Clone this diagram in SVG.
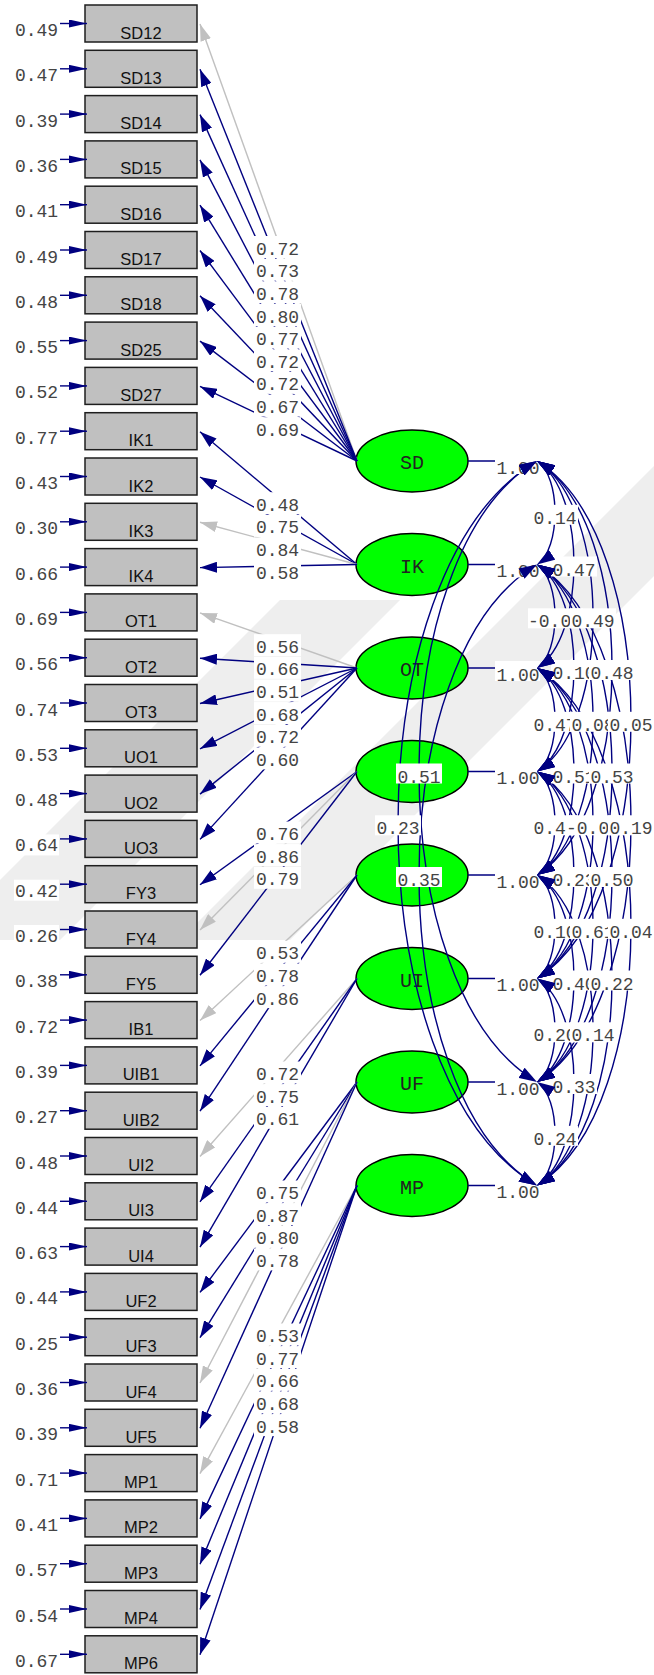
<svg xmlns="http://www.w3.org/2000/svg" width="654" height="1675" viewBox="0 0 654 1675">
<style>
.box{fill:#c0c0c0;stroke:#1e1e1e;stroke-width:1.5}
.bt{font-family:"Liberation Sans",Arial,sans-serif;font-size:16.5px;fill:#111;text-anchor:middle}
.lv{fill:#00ff00;stroke:#000;stroke-width:1.5}
.lt{font-family:"Liberation Mono","DejaVu Sans Mono",monospace;font-size:20px;fill:#222;text-anchor:middle}
.lb{font-family:"Liberation Mono","DejaVu Sans Mono",monospace;font-size:18px;fill:#444;text-anchor:middle}
.bg{fill:#fff}
.wm{fill:#eeeeee}
.n{stroke:#000080;stroke-width:1.4;fill:none}
.g{stroke:#c0c0c0;stroke-width:1.4;fill:none}
.na{marker-end:url(#a)}
.ga{marker-end:url(#ag)}
.ea{marker-end:url(#e)}
.hd{stroke:none;fill:none;marker-start:url(#h);marker-end:url(#h)}
</style>
<defs>
<marker id="a" viewBox="0 0 17 11" refX="17" refY="5.5" markerWidth="17" markerHeight="11" markerUnits="userSpaceOnUse" orient="auto-start-reverse"><path d="M0,0L17,5.5L0,11z" fill="#000080"/></marker>
<marker id="ag" viewBox="0 0 17 11" refX="17" refY="5.5" markerWidth="17" markerHeight="11" markerUnits="userSpaceOnUse" orient="auto-start-reverse"><path d="M0,0L17,5.5L0,11z" fill="#c0c0c0"/></marker>
<marker id="e" viewBox="0 0 18 8" refX="18" refY="4" markerWidth="18" markerHeight="8" markerUnits="userSpaceOnUse" orient="auto"><path d="M0,0L18,4L0,8z" fill="#000080"/></marker>
<marker id="h" viewBox="0 0 18 12" refX="18" refY="6" markerWidth="18" markerHeight="12" markerUnits="userSpaceOnUse" orient="auto-start-reverse"><path d="M0,0L18,6L0,12z" fill="#000080"/></marker>
</defs>
<rect width="654" height="1675" fill="#fff"/>
<g id="watermark">
<polygon class="wm" points="654,466 654,576 290,940 180,940"/>
<polygon class="wm" points="280,600 400,600 60,940 0,940 0,880"/>
</g>

<g id="SD12"><rect class="box" x="85" y="5" width="112" height="37"/><text class="bt" x="141" y="38.5">SD12</text></g>
<g id="SD13"><rect class="box" x="85" y="50.3" width="112" height="37"/><text class="bt" x="141" y="83.8">SD13</text></g>
<g id="SD14"><rect class="box" x="85" y="95.6" width="112" height="37"/><text class="bt" x="141" y="129.1">SD14</text></g>
<g id="SD15"><rect class="box" x="85" y="140.9" width="112" height="37"/><text class="bt" x="141" y="174.4">SD15</text></g>
<g id="SD16"><rect class="box" x="85" y="186.2" width="112" height="37"/><text class="bt" x="141" y="219.7">SD16</text></g>
<g id="SD17"><rect class="box" x="85" y="231.5" width="112" height="37"/><text class="bt" x="141" y="265">SD17</text></g>
<g id="SD18"><rect class="box" x="85" y="276.8" width="112" height="37"/><text class="bt" x="141" y="310.3">SD18</text></g>
<g id="SD25"><rect class="box" x="85" y="322.1" width="112" height="37"/><text class="bt" x="141" y="355.6">SD25</text></g>
<g id="SD27"><rect class="box" x="85" y="367.4" width="112" height="37"/><text class="bt" x="141" y="400.9">SD27</text></g>
<g id="IK1"><rect class="box" x="85" y="412.7" width="112" height="37"/><text class="bt" x="141" y="446.2">IK1</text></g>
<g id="IK2"><rect class="box" x="85" y="458" width="112" height="37"/><text class="bt" x="141" y="491.5">IK2</text></g>
<g id="IK3"><rect class="box" x="85" y="503.3" width="112" height="37"/><text class="bt" x="141" y="536.8">IK3</text></g>
<g id="IK4"><rect class="box" x="85" y="548.6" width="112" height="37"/><text class="bt" x="141" y="582.1">IK4</text></g>
<g id="OT1"><rect class="box" x="85" y="593.9" width="112" height="37"/><text class="bt" x="141" y="627.4">OT1</text></g>
<g id="OT2"><rect class="box" x="85" y="639.2" width="112" height="37"/><text class="bt" x="141" y="672.7">OT2</text></g>
<g id="OT3"><rect class="box" x="85" y="684.5" width="112" height="37"/><text class="bt" x="141" y="718">OT3</text></g>
<g id="UO1"><rect class="box" x="85" y="729.8" width="112" height="37"/><text class="bt" x="141" y="763.3">UO1</text></g>
<g id="UO2"><rect class="box" x="85" y="775.1" width="112" height="37"/><text class="bt" x="141" y="808.6">UO2</text></g>
<g id="UO3"><rect class="box" x="85" y="820.4" width="112" height="37"/><text class="bt" x="141" y="853.9">UO3</text></g>
<g id="FY3"><rect class="box" x="85" y="865.7" width="112" height="37"/><text class="bt" x="141" y="899.2">FY3</text></g>
<g id="FY4"><rect class="box" x="85" y="911" width="112" height="37"/><text class="bt" x="141" y="944.5">FY4</text></g>
<g id="FY5"><rect class="box" x="85" y="956.3" width="112" height="37"/><text class="bt" x="141" y="989.8">FY5</text></g>
<g id="IB1"><rect class="box" x="85" y="1001.6" width="112" height="37"/><text class="bt" x="141" y="1035.1">IB1</text></g>
<g id="UIB1"><rect class="box" x="85" y="1046.9" width="112" height="37"/><text class="bt" x="141" y="1080.4">UIB1</text></g>
<g id="UIB2"><rect class="box" x="85" y="1092.2" width="112" height="37"/><text class="bt" x="141" y="1125.7">UIB2</text></g>
<g id="UI2"><rect class="box" x="85" y="1137.5" width="112" height="37"/><text class="bt" x="141" y="1171">UI2</text></g>
<g id="UI3"><rect class="box" x="85" y="1182.8" width="112" height="37"/><text class="bt" x="141" y="1216.3">UI3</text></g>
<g id="UI4"><rect class="box" x="85" y="1228.1" width="112" height="37"/><text class="bt" x="141" y="1261.6">UI4</text></g>
<g id="UF2"><rect class="box" x="85" y="1273.4" width="112" height="37"/><text class="bt" x="141" y="1306.9">UF2</text></g>
<g id="UF3"><rect class="box" x="85" y="1318.7" width="112" height="37"/><text class="bt" x="141" y="1352.2">UF3</text></g>
<g id="UF4"><rect class="box" x="85" y="1364" width="112" height="37"/><text class="bt" x="141" y="1397.5">UF4</text></g>
<g id="UF5"><rect class="box" x="85" y="1409.3" width="112" height="37"/><text class="bt" x="141" y="1442.8">UF5</text></g>
<g id="MP1"><rect class="box" x="85" y="1454.6" width="112" height="37"/><text class="bt" x="141" y="1488.1">MP1</text></g>
<g id="MP2"><rect class="box" x="85" y="1499.9" width="112" height="37"/><text class="bt" x="141" y="1533.4">MP2</text></g>
<g id="MP3"><rect class="box" x="85" y="1545.2" width="112" height="37"/><text class="bt" x="141" y="1578.7">MP3</text></g>
<g id="MP4"><rect class="box" x="85" y="1590.5" width="112" height="37"/><text class="bt" x="141" y="1624">MP4</text></g>
<g id="MP6"><rect class="box" x="85" y="1635.8" width="112" height="37"/><text class="bt" x="141" y="1669.3">MP6</text></g>

<g id="lv-SD"><ellipse class="lv" cx="412" cy="461" rx="56" ry="31"/><text class="lt" x="412" y="469">SD</text></g>
<g id="lv-IK"><ellipse class="lv" cx="412" cy="564.5" rx="56" ry="31"/><text class="lt" x="412" y="572.5">IK</text></g>
<g id="lv-OT"><ellipse class="lv" cx="412" cy="668" rx="56" ry="31"/><text class="lt" x="412" y="676">OT</text></g>
<g id="lv-4"><ellipse class="lv" cx="412" cy="771.5" rx="56" ry="31"/></g>
<g id="lv-5"><ellipse class="lv" cx="412" cy="875" rx="56" ry="31"/></g>
<g id="lv-UI"><ellipse class="lv" cx="412" cy="978.5" rx="56" ry="31"/><text class="lt" x="412" y="986.5">UI</text></g>
<g id="lv-UF"><ellipse class="lv" cx="412" cy="1082" rx="56" ry="31"/><text class="lt" x="412" y="1090">UF</text></g>
<g id="lv-MP"><ellipse class="lv" cx="412" cy="1185.5" rx="56" ry="31"/><text class="lt" x="412" y="1193.5">MP</text></g>

<g id="connectors">
<g id="errors" class="n">
<line class="ea" x1="60" y1="23.5" x2="87" y2="23.5"/>
<line class="ea" x1="60" y1="68.8" x2="87" y2="68.8"/>
<line class="ea" x1="60" y1="114.1" x2="87" y2="114.1"/>
<line class="ea" x1="60" y1="159.4" x2="87" y2="159.4"/>
<line class="ea" x1="60" y1="204.7" x2="87" y2="204.7"/>
<line class="ea" x1="60" y1="250" x2="87" y2="250"/>
<line class="ea" x1="60" y1="295.3" x2="87" y2="295.3"/>
<line class="ea" x1="60" y1="340.6" x2="87" y2="340.6"/>
<line class="ea" x1="60" y1="385.9" x2="87" y2="385.9"/>
<line class="ea" x1="60" y1="431.2" x2="87" y2="431.2"/>
<line class="ea" x1="60" y1="476.5" x2="87" y2="476.5"/>
<line class="ea" x1="60" y1="521.8" x2="87" y2="521.8"/>
<line class="ea" x1="60" y1="567.1" x2="87" y2="567.1"/>
<line class="ea" x1="60" y1="612.4" x2="87" y2="612.4"/>
<line class="ea" x1="60" y1="657.7" x2="87" y2="657.7"/>
<line class="ea" x1="60" y1="703" x2="87" y2="703"/>
<line class="ea" x1="60" y1="748.3" x2="87" y2="748.3"/>
<line class="ea" x1="60" y1="793.6" x2="87" y2="793.6"/>
<line class="ea" x1="60" y1="838.9" x2="87" y2="838.9"/>
<line class="ea" x1="60" y1="884.2" x2="87" y2="884.2"/>
<line class="ea" x1="60" y1="929.5" x2="87" y2="929.5"/>
<line class="ea" x1="60" y1="974.8" x2="87" y2="974.8"/>
<line class="ea" x1="60" y1="1020.1" x2="87" y2="1020.1"/>
<line class="ea" x1="60" y1="1065.4" x2="87" y2="1065.4"/>
<line class="ea" x1="60" y1="1110.7" x2="87" y2="1110.7"/>
<line class="ea" x1="60" y1="1156" x2="87" y2="1156"/>
<line class="ea" x1="60" y1="1201.3" x2="87" y2="1201.3"/>
<line class="ea" x1="60" y1="1246.6" x2="87" y2="1246.6"/>
<line class="ea" x1="60" y1="1291.9" x2="87" y2="1291.9"/>
<line class="ea" x1="60" y1="1337.2" x2="87" y2="1337.2"/>
<line class="ea" x1="60" y1="1382.5" x2="87" y2="1382.5"/>
<line class="ea" x1="60" y1="1427.8" x2="87" y2="1427.8"/>
<line class="ea" x1="60" y1="1473.1" x2="87" y2="1473.1"/>
<line class="ea" x1="60" y1="1518.4" x2="87" y2="1518.4"/>
<line class="ea" x1="60" y1="1563.7" x2="87" y2="1563.7"/>
<line class="ea" x1="60" y1="1609" x2="87" y2="1609"/>
<line class="ea" x1="60" y1="1654.3" x2="87" y2="1654.3"/>
</g>
<g id="loadings">
<line class="g ga" x1="357" y1="461" x2="200" y2="24"/>
<line class="n na" x1="357" y1="461" x2="200" y2="69.3"/>
<line class="n na" x1="357" y1="461" x2="200" y2="114.6"/>
<line class="n na" x1="357" y1="461" x2="200" y2="159.9"/>
<line class="n na" x1="357" y1="461" x2="200" y2="205.2"/>
<line class="n na" x1="357" y1="461" x2="200" y2="250.5"/>
<line class="n na" x1="357" y1="461" x2="200" y2="295.8"/>
<line class="n na" x1="357" y1="461" x2="200" y2="341.1"/>
<line class="n na" x1="357" y1="461" x2="200" y2="386.4"/>
<line class="n na" x1="357" y1="564.5" x2="200" y2="431.7"/>
<line class="n na" x1="357" y1="564.5" x2="200" y2="477"/>
<line class="g ga" x1="357" y1="564.5" x2="200" y2="522.3"/>
<line class="n na" x1="357" y1="564.5" x2="200" y2="567.6"/>
<line class="g ga" x1="357" y1="668" x2="200" y2="612.9"/>
<line class="n na" x1="357" y1="668" x2="200" y2="658.2"/>
<line class="n na" x1="357" y1="668" x2="200" y2="703.5"/>
<line class="n na" x1="357" y1="668" x2="200" y2="748.8"/>
<line class="n na" x1="357" y1="668" x2="200" y2="794.1"/>
<line class="n na" x1="357" y1="668" x2="200" y2="839.4"/>
<line class="n na" x1="357" y1="771.5" x2="200" y2="884.7"/>
<line class="g ga" x1="357" y1="771.5" x2="200" y2="930"/>
<line class="n na" x1="357" y1="771.5" x2="200" y2="975.3"/>
<line class="g ga" x1="357" y1="875" x2="200" y2="1020.6"/>
<line class="n na" x1="357" y1="875" x2="200" y2="1065.9"/>
<line class="n na" x1="357" y1="875" x2="200" y2="1111.2"/>
<line class="g ga" x1="357" y1="978.5" x2="200" y2="1156.5"/>
<line class="n na" x1="357" y1="978.5" x2="200" y2="1201.8"/>
<line class="n na" x1="357" y1="978.5" x2="200" y2="1247.1"/>
<line class="n na" x1="357" y1="1082" x2="200" y2="1292.4"/>
<line class="n na" x1="357" y1="1082" x2="200" y2="1337.7"/>
<line class="g ga" x1="357" y1="1082" x2="200" y2="1383"/>
<line class="n na" x1="357" y1="1082" x2="200" y2="1428.3"/>
<line class="g ga" x1="357" y1="1185.5" x2="200" y2="1473.6"/>
<line class="n na" x1="357" y1="1185.5" x2="200" y2="1518.9"/>
<line class="n na" x1="357" y1="1185.5" x2="200" y2="1564.2"/>
<line class="n na" x1="357" y1="1185.5" x2="200" y2="1609.5"/>
<line class="n na" x1="357" y1="1185.5" x2="200" y2="1654.8"/>
</g>
<g id="variances" class="n">
<line x1="468" y1="461" x2="537" y2="461"/>
<line x1="468" y1="564.5" x2="537" y2="564.5"/>
<line x1="468" y1="668" x2="537" y2="668"/>
<line x1="468" y1="771.5" x2="537" y2="771.5"/>
<line x1="468" y1="875" x2="537" y2="875"/>
<line x1="468" y1="978.5" x2="537" y2="978.5"/>
<line x1="468" y1="1082" x2="537" y2="1082"/>
<line x1="468" y1="1185.5" x2="537" y2="1185.5"/>
</g>
<g id="correlations" class="n">
<path id="c01" d="M537,461C561,476.5 561,549 537,564.5"/>
<path id="c02" d="M537,461C586.3,492.1 586.3,636.9 537,668"/>
<path id="c03" d="M537,461C611.7,507.6 611.7,724.9 537,771.5"/>
<path id="c04" d="M537,461C637,523.1 637,812.9 537,875"/>
<path id="c05" d="M537,461C662.3,538.6 662.3,900.9 537,978.5"/>
<path id="c06" d="M537,461C379.7,554.2 379.7,988.8 537,1082"/>
<path id="c07" d="M537,461C351.7,569.7 351.7,1076.8 537,1185.5"/>
<path id="c12" d="M537,564.5C561,580 561,652.5 537,668"/>
<path id="c13" d="M537,564.5C586.3,595.6 586.3,740.4 537,771.5"/>
<path id="c14" d="M537,564.5C611.7,611.1 611.7,828.4 537,875"/>
<path id="c15" d="M537,564.5C637,626.6 637,916.4 537,978.5"/>
<path id="c16" d="M537,564.5C662.3,642.1 662.3,1004.4 537,1082"/>
<path id="c17" d="M537,564.5C379.7,657.7 379.7,1092.3 537,1185.5"/>
<path id="c23" d="M537,668C561,683.5 561,756 537,771.5"/>
<path id="c24" d="M537,668C586.3,699.1 586.3,843.9 537,875"/>
<path id="c25" d="M537,668C611.7,714.6 611.7,931.9 537,978.5"/>
<path id="c26" d="M537,668C637,730.1 637,1019.9 537,1082"/>
<path id="c27" d="M537,668C662.3,745.6 662.3,1107.9 537,1185.5"/>
<path id="c34" d="M537,771.5C561,787 561,859.5 537,875"/>
<path id="c35" d="M537,771.5C586.3,802.6 586.3,947.4 537,978.5"/>
<path id="c36" d="M537,771.5C611.7,818.1 611.7,1035.4 537,1082"/>
<path id="c37" d="M537,771.5C637,833.6 637,1123.4 537,1185.5"/>
<path id="c45" d="M537,875C561,890.5 561,963 537,978.5"/>
<path id="c46" d="M537,875C586.3,906.1 586.3,1050.9 537,1082"/>
<path id="c47" d="M537,875C611.7,921.6 611.7,1138.9 537,1185.5"/>
<path id="c56" d="M537,978.5C561,994 561,1066.5 537,1082"/>
<path id="c57" d="M537,978.5C586.3,1009.6 586.3,1154.4 537,1185.5"/>
<path id="c67" d="M537,1082C561,1097.5 561,1170 537,1185.5"/>
</g>
</g>

<g id="labels">
<g id="error-labels">
<rect class="bg" x="14" y="19" width="45" height="21"/><text class="lb" x="36.5" y="36">0.49</text>
<rect class="bg" x="14" y="64.3" width="45" height="21"/><text class="lb" x="36.5" y="81.3">0.47</text>
<rect class="bg" x="14" y="109.6" width="45" height="21"/><text class="lb" x="36.5" y="126.6">0.39</text>
<rect class="bg" x="14" y="154.9" width="45" height="21"/><text class="lb" x="36.5" y="171.9">0.36</text>
<rect class="bg" x="14" y="200.2" width="45" height="21"/><text class="lb" x="36.5" y="217.2">0.41</text>
<rect class="bg" x="14" y="245.5" width="45" height="21"/><text class="lb" x="36.5" y="262.5">0.49</text>
<rect class="bg" x="14" y="290.8" width="45" height="21"/><text class="lb" x="36.5" y="307.8">0.48</text>
<rect class="bg" x="14" y="336.1" width="45" height="21"/><text class="lb" x="36.5" y="353.1">0.55</text>
<rect class="bg" x="14" y="381.4" width="45" height="21"/><text class="lb" x="36.5" y="398.4">0.52</text>
<rect class="bg" x="14" y="426.7" width="45" height="21"/><text class="lb" x="36.5" y="443.7">0.77</text>
<rect class="bg" x="14" y="472" width="45" height="21"/><text class="lb" x="36.5" y="489">0.43</text>
<rect class="bg" x="14" y="517.3" width="45" height="21"/><text class="lb" x="36.5" y="534.3">0.30</text>
<rect class="bg" x="14" y="562.6" width="45" height="21"/><text class="lb" x="36.5" y="579.6">0.66</text>
<rect class="bg" x="14" y="607.9" width="45" height="21"/><text class="lb" x="36.5" y="624.9">0.69</text>
<rect class="bg" x="14" y="653.2" width="45" height="21"/><text class="lb" x="36.5" y="670.2">0.56</text>
<rect class="bg" x="14" y="698.5" width="45" height="21"/><text class="lb" x="36.5" y="715.5">0.74</text>
<rect class="bg" x="14" y="743.8" width="45" height="21"/><text class="lb" x="36.5" y="760.8">0.53</text>
<rect class="bg" x="14" y="789.1" width="45" height="21"/><text class="lb" x="36.5" y="806.1">0.48</text>
<rect class="bg" x="14" y="834.4" width="45" height="21"/><text class="lb" x="36.5" y="851.4">0.64</text>
<rect class="bg" x="14" y="879.7" width="45" height="21"/><text class="lb" x="36.5" y="896.7">0.42</text>
<rect class="bg" x="14" y="925" width="45" height="21"/><text class="lb" x="36.5" y="942">0.26</text>
<rect class="bg" x="14" y="970.3" width="45" height="21"/><text class="lb" x="36.5" y="987.3">0.38</text>
<rect class="bg" x="14" y="1015.6" width="45" height="21"/><text class="lb" x="36.5" y="1032.6">0.72</text>
<rect class="bg" x="14" y="1060.9" width="45" height="21"/><text class="lb" x="36.5" y="1077.9">0.39</text>
<rect class="bg" x="14" y="1106.2" width="45" height="21"/><text class="lb" x="36.5" y="1123.2">0.27</text>
<rect class="bg" x="14" y="1151.5" width="45" height="21"/><text class="lb" x="36.5" y="1168.5">0.48</text>
<rect class="bg" x="14" y="1196.8" width="45" height="21"/><text class="lb" x="36.5" y="1213.8">0.44</text>
<rect class="bg" x="14" y="1242.1" width="45" height="21"/><text class="lb" x="36.5" y="1259.1">0.63</text>
<rect class="bg" x="14" y="1287.4" width="45" height="21"/><text class="lb" x="36.5" y="1304.4">0.44</text>
<rect class="bg" x="14" y="1332.7" width="45" height="21"/><text class="lb" x="36.5" y="1349.7">0.25</text>
<rect class="bg" x="14" y="1378" width="45" height="21"/><text class="lb" x="36.5" y="1395">0.36</text>
<rect class="bg" x="14" y="1423.3" width="45" height="21"/><text class="lb" x="36.5" y="1440.3">0.39</text>
<rect class="bg" x="14" y="1468.6" width="45" height="21"/><text class="lb" x="36.5" y="1485.6">0.71</text>
<rect class="bg" x="14" y="1513.9" width="45" height="21"/><text class="lb" x="36.5" y="1530.9">0.41</text>
<rect class="bg" x="14" y="1559.2" width="45" height="21"/><text class="lb" x="36.5" y="1576.2">0.57</text>
<rect class="bg" x="14" y="1604.5" width="45" height="21"/><text class="lb" x="36.5" y="1621.5">0.54</text>
<rect class="bg" x="14" y="1649.8" width="45" height="21"/><text class="lb" x="36.5" y="1666.8">0.67</text>
</g>
<g id="loading-labels">
<rect class="bg" x="254" y="236" width="47" height="22"/><text class="lb" x="277.5" y="254.5">0.72</text>
<rect class="bg" x="254" y="258.7" width="47" height="22"/><text class="lb" x="277.5" y="277.2">0.73</text>
<rect class="bg" x="254" y="281.3" width="47" height="22"/><text class="lb" x="277.5" y="299.8">0.78</text>
<rect class="bg" x="254" y="304" width="47" height="22"/><text class="lb" x="277.5" y="322.5">0.80</text>
<rect class="bg" x="254" y="326.6" width="47" height="22"/><text class="lb" x="277.5" y="345.1">0.77</text>
<rect class="bg" x="254" y="349.3" width="47" height="22"/><text class="lb" x="277.5" y="367.8">0.72</text>
<rect class="bg" x="254" y="371.9" width="47" height="22"/><text class="lb" x="277.5" y="390.4">0.72</text>
<rect class="bg" x="254" y="394.6" width="47" height="22"/><text class="lb" x="277.5" y="413.1">0.67</text>
<rect class="bg" x="254" y="417.2" width="47" height="22"/><text class="lb" x="277.5" y="435.7">0.69</text>
<rect class="bg" x="254" y="492.2" width="47" height="22"/><text class="lb" x="277.5" y="510.7">0.48</text>
<rect class="bg" x="254" y="514.8" width="47" height="22"/><text class="lb" x="277.5" y="533.3">0.75</text>
<rect class="bg" x="254" y="537.5" width="47" height="22"/><text class="lb" x="277.5" y="556">0.84</text>
<rect class="bg" x="254" y="560.1" width="47" height="22"/><text class="lb" x="277.5" y="578.6">0.58</text>
<rect class="bg" x="254" y="634.2" width="47" height="22"/><text class="lb" x="277.5" y="652.7">0.56</text>
<rect class="bg" x="254" y="656.8" width="47" height="22"/><text class="lb" x="277.5" y="675.3">0.66</text>
<rect class="bg" x="254" y="679.5" width="47" height="22"/><text class="lb" x="277.5" y="698">0.51</text>
<rect class="bg" x="254" y="702.1" width="47" height="22"/><text class="lb" x="277.5" y="720.6">0.68</text>
<rect class="bg" x="254" y="724.8" width="47" height="22"/><text class="lb" x="277.5" y="743.3">0.72</text>
<rect class="bg" x="254" y="747.4" width="47" height="22"/><text class="lb" x="277.5" y="765.9">0.60</text>
<rect class="bg" x="254" y="821.5" width="47" height="22"/><text class="lb" x="277.5" y="840">0.76</text>
<rect class="bg" x="254" y="844.1" width="47" height="22"/><text class="lb" x="277.5" y="862.6">0.86</text>
<rect class="bg" x="254" y="866.8" width="47" height="22"/><text class="lb" x="277.5" y="885.3">0.79</text>
<rect class="bg" x="254" y="940.8" width="47" height="22"/><text class="lb" x="277.5" y="959.3">0.53</text>
<rect class="bg" x="254" y="963.5" width="47" height="22"/><text class="lb" x="277.5" y="982">0.78</text>
<rect class="bg" x="254" y="986.1" width="47" height="22"/><text class="lb" x="277.5" y="1004.6">0.86</text>
<rect class="bg" x="254" y="1061.5" width="47" height="22"/><text class="lb" x="277.5" y="1080">0.72</text>
<rect class="bg" x="254" y="1084.1" width="47" height="22"/><text class="lb" x="277.5" y="1102.6">0.75</text>
<rect class="bg" x="254" y="1106.8" width="47" height="22"/><text class="lb" x="277.5" y="1125.3">0.61</text>
<rect class="bg" x="254" y="1180.5" width="47" height="22"/><text class="lb" x="277.5" y="1199">0.75</text>
<rect class="bg" x="254" y="1203.1" width="47" height="22"/><text class="lb" x="277.5" y="1221.6">0.87</text>
<rect class="bg" x="254" y="1225.8" width="47" height="22"/><text class="lb" x="277.5" y="1244.3">0.80</text>
<rect class="bg" x="254" y="1248.4" width="47" height="22"/><text class="lb" x="277.5" y="1266.9">0.78</text>
<rect class="bg" x="254" y="1323.5" width="47" height="22"/><text class="lb" x="277.5" y="1342">0.53</text>
<rect class="bg" x="254" y="1346.1" width="47" height="22"/><text class="lb" x="277.5" y="1364.6">0.77</text>
<rect class="bg" x="254" y="1368.8" width="47" height="22"/><text class="lb" x="277.5" y="1387.3">0.66</text>
<rect class="bg" x="254" y="1391.4" width="47" height="22"/><text class="lb" x="277.5" y="1409.9">0.68</text>
<rect class="bg" x="254" y="1414.1" width="47" height="22"/><text class="lb" x="277.5" y="1432.6">0.58</text>
</g>
<g id="variance-labels">
<rect class="bg" x="495" y="454" width="45" height="20"/><text class="lb" x="518" y="473.5">1.00</text>
<rect class="bg" x="495" y="557.5" width="45" height="20"/><text class="lb" x="518" y="577">1.00</text>
<rect class="bg" x="495" y="661" width="45" height="20"/><text class="lb" x="518" y="680.5">1.00</text>
<rect class="bg" x="495" y="764.5" width="45" height="20"/><text class="lb" x="518" y="784">1.00</text>
<rect class="bg" x="495" y="868" width="45" height="20"/><text class="lb" x="518" y="887.5">1.00</text>
<rect class="bg" x="495" y="971.5" width="45" height="20"/><text class="lb" x="518" y="991">1.00</text>
<rect class="bg" x="495" y="1075" width="45" height="20"/><text class="lb" x="518" y="1094.5">1.00</text>
<rect class="bg" x="495" y="1178.5" width="45" height="20"/><text class="lb" x="518" y="1198">1.00</text>
</g>
<g id="correlation-labels">
<rect class="bg" x="532" y="504.8" width="46" height="20"/><text class="lb" x="555" y="523.8">0.14</text>
<rect class="bg" x="551" y="556.5" width="46" height="20"/><text class="lb" x="574" y="575.5">0.47</text>
<rect class="bg" x="528" y="608.3" width="55" height="20"/><text class="lb" x="555" y="627.3">-0.00</text>
<rect class="bg" x="570" y="608.3" width="46" height="20"/><text class="lb" x="593" y="627.3">0.49</text>
<rect class="bg" x="551" y="660" width="46" height="20"/><text class="lb" x="574" y="679">0.10</text>
<rect class="bg" x="532" y="711.8" width="46" height="20"/><text class="lb" x="555" y="730.8">0.47</text>
<rect class="bg" x="589" y="660" width="46" height="20"/><text class="lb" x="612" y="679">0.48</text>
<rect class="bg" x="570" y="711.8" width="46" height="20"/><text class="lb" x="593" y="730.8">0.08</text>
<rect class="bg" x="551" y="763.5" width="46" height="20"/><text class="lb" x="574" y="782.5">0.51</text>
<rect class="bg" x="532" y="815.3" width="46" height="20"/><text class="lb" x="555" y="834.3">0.41</text>
<rect class="bg" x="608" y="711.8" width="46" height="20"/><text class="lb" x="631" y="730.8">0.05</text>
<rect class="bg" x="589" y="763.5" width="46" height="20"/><text class="lb" x="612" y="782.5">0.53</text>
<rect class="bg" x="566" y="815.3" width="55" height="20"/><text class="lb" x="593" y="834.3">-0.00</text>
<rect class="bg" x="551" y="867" width="46" height="20"/><text class="lb" x="574" y="886">0.23</text>
<rect class="bg" x="532" y="918.8" width="46" height="20"/><text class="lb" x="555" y="937.8">0.10</text>
<rect class="bg" x="396" y="763.5" width="46" height="20"/><text class="lb" x="419" y="782.5">0.51</text>
<rect class="bg" x="608" y="815.3" width="46" height="20"/><text class="lb" x="631" y="834.3">0.19</text>
<rect class="bg" x="589" y="867" width="46" height="20"/><text class="lb" x="612" y="886">0.50</text>
<rect class="bg" x="570" y="918.8" width="46" height="20"/><text class="lb" x="593" y="937.8">0.61</text>
<rect class="bg" x="551" y="970.5" width="46" height="20"/><text class="lb" x="574" y="989.5">0.40</text>
<rect class="bg" x="532" y="1022.3" width="46" height="20"/><text class="lb" x="555" y="1041.3">0.20</text>
<rect class="bg" x="375" y="815.3" width="46" height="20"/><text class="lb" x="398" y="834.3">0.23</text>
<rect class="bg" x="396" y="867" width="46" height="20"/><text class="lb" x="419" y="886">0.35</text>
<rect class="bg" x="608" y="918.8" width="46" height="20"/><text class="lb" x="631" y="937.8">0.04</text>
<rect class="bg" x="589" y="970.5" width="46" height="20"/><text class="lb" x="612" y="989.5">0.22</text>
<rect class="bg" x="570" y="1022.3" width="46" height="20"/><text class="lb" x="593" y="1041.3">0.14</text>
<rect class="bg" x="551" y="1074" width="46" height="20"/><text class="lb" x="574" y="1093">0.33</text>
<rect class="bg" x="532" y="1125.8" width="46" height="20"/><text class="lb" x="555" y="1144.8">0.24</text>
</g>
</g>

<g id="correlation-heads">
<use href="#c01" class="hd"/><use href="#c02" class="hd"/><use href="#c03" class="hd"/><use href="#c04" class="hd"/><use href="#c05" class="hd"/><use href="#c06" class="hd"/><use href="#c07" class="hd"/>
<use href="#c12" class="hd"/><use href="#c13" class="hd"/><use href="#c14" class="hd"/><use href="#c15" class="hd"/><use href="#c16" class="hd"/><use href="#c17" class="hd"/>
<use href="#c23" class="hd"/><use href="#c24" class="hd"/><use href="#c25" class="hd"/><use href="#c26" class="hd"/><use href="#c27" class="hd"/>
<use href="#c34" class="hd"/><use href="#c35" class="hd"/><use href="#c36" class="hd"/><use href="#c37" class="hd"/>
<use href="#c45" class="hd"/><use href="#c46" class="hd"/><use href="#c47" class="hd"/>
<use href="#c56" class="hd"/><use href="#c57" class="hd"/><use href="#c67" class="hd"/>
</g>
</svg>
